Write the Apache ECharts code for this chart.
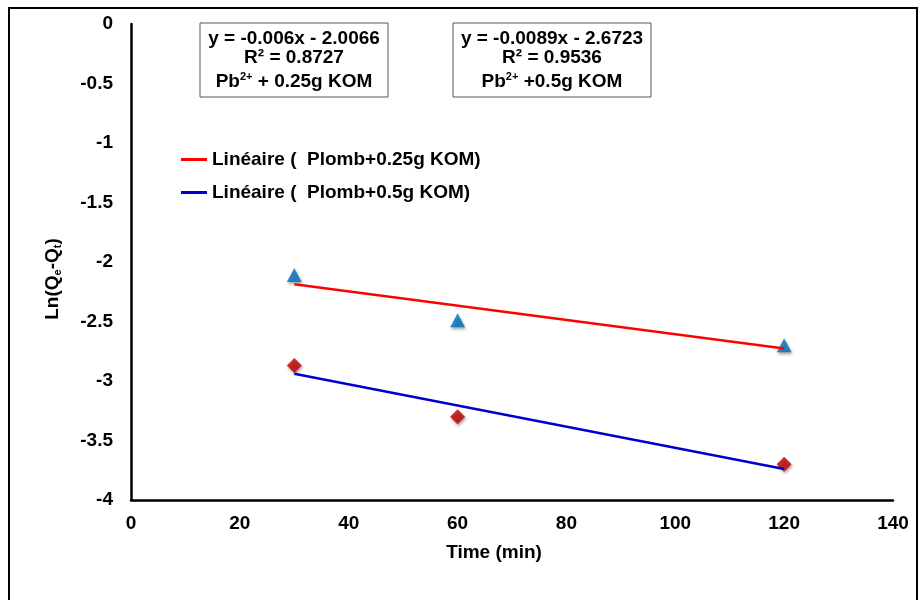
<!DOCTYPE html>
<html>
<head>
<meta charset="utf-8">
<script src="https://cdn.jsdelivr.net/npm/echarts@6/dist/echarts.min.js"></script>
<style>
  html, body { margin: 0; padding: 0; background: #fff; }
  #chart { width: 920px; height: 600px; }
</style>
</head>
<body>
<div id="chart"></div>
<script>
// Pseudo-first-order kinetics: Ln(Qe - Qt) versus contact time
const times = [30, 60, 120];
const pb025 = [-2.11, -2.49, -2.70];   // Pb2+ + 0.25 g KOM
const pb05  = [-2.87, -3.30, -3.70];   // Pb2+ + 0.5 g KOM

// Linear fits (slope, intercept) as reported in the equation boxes
const fit025 = { slope: -0.006,  intercept: -2.0066, r2: '0.8727' };
const fit05  = { slope: -0.0089, intercept: -2.6723, r2: '0.9536' };

const xTicks = { min: 0, max: 140, interval: 20 };
const yTicks = { min: -4, max: 0, interval: 0.5 };

const legendNames = ['Linéaire (  Plomb+0.25g KOM)', 'Linéaire (  Plomb+0.5g KOM)'];

const FONT = '"Liberation Sans", Arial, sans-serif';
const FS = 19;

function fitLine(fit) {
  const x0 = times[0], x1 = times[times.length - 1];
  return [[x0, fit.slope * x0 + fit.intercept], [x1, fit.slope * x1 + fit.intercept]];
}
function fmtEq(fit) {
  return 'y = ' + fit.slope.toString() + 'x - ' + Math.abs(fit.intercept).toString();
}

const chart = echarts.init(document.getElementById('chart'), null, { renderer: 'canvas' });

const markerShadow = {
  shadowBlur: 3, shadowColor: 'rgba(0,0,0,0.45)', shadowOffsetX: 1, shadowOffsetY: 2
};

function eqBox(x, y, w, h, fit, label) {
  const cx = x + w / 2;
  const txt = (yy, rich, str) => ({
    type: 'text', x: cx, y: yy,
    style: {
      text: str, fill: '#000', font: 'bold ' + FS + 'px ' + FONT,
      align: 'center', verticalAlign: 'middle', rich: rich
    }
  });
  const rich = {
    b: { fontSize: FS, fontWeight: 'bold', fontFamily: FONT, fill: '#000' },
    sup: { fontSize: 11, fontWeight: 'bold', fontFamily: FONT, fill: '#000', padding: [0, 0, 10, 0] }
  };
  return {
    type: 'group',
    children: [
      { type: 'rect', shape: { x: x, y: y, width: w, height: h },
        style: { fill: '#fff', stroke: '#595959', lineWidth: 1 } },
      txt(y + 16, null, fmtEq(fit)),
      txt(y + 35, null, 'R² = ' + fit.r2),
      txt(y + 59, rich, '{b|Pb}{sup|2+}{b|' + label + '}')
    ]
  };
}

chart.setOption({
  backgroundColor: '#fff',
  animation: false,
  textStyle: { fontFamily: FONT },
  grid: { left: 131, right: 27, top: 24, bottom: 100, containLabel: false },
  legend: {
    data: legendNames,
    orient: 'vertical',
    left: 176, top: 145,
    itemWidth: 26, itemHeight: 3, itemGap: 14,
    icon: 'rect',
    textStyle: { fontSize: FS, fontWeight: 'bold', color: '#000', fontFamily: FONT }
  },
  xAxis: {
    type: 'value',
    min: xTicks.min, max: xTicks.max, interval: xTicks.interval,
    name: 'Time (min)',
    nameLocation: 'middle',
    nameGap: 43,
    nameTextStyle: { fontSize: FS, fontWeight: 'bold', color: '#000', fontFamily: FONT, padding: [0, 36, 0, 0] },
    axisLine: { onZero: false, lineStyle: { color: '#000', width: 2.5 } },
    axisTick: { show: false },
    splitLine: { show: false },
    axisLabel: { fontSize: FS, fontWeight: 'bold', color: '#000', margin: 14, fontFamily: FONT }
  },
  yAxis: {
    type: 'value',
    min: yTicks.min, max: yTicks.max, interval: yTicks.interval,
    name: '{m|Ln(Q}{s|e}{m|-Q}{s|t}{m|)}',
    nameLocation: 'middle',
    nameRotate: 90,
    nameGap: 68,
    nameTextStyle: {
      color: '#000',
      padding: [0, 34, 0, 0],
      rich: {
        m: { fontSize: FS, fontWeight: 'bold', color: '#000', fontFamily: FONT },
        s: { fontSize: 11, fontWeight: 'bold', color: '#000', fontFamily: FONT, padding: [9, 0, 0, 0] }
      }
    },
    axisLine: { show: true, onZero: false, lineStyle: { color: '#000', width: 2.5 } },
    axisTick: { show: false },
    splitLine: { show: false },
    axisLabel: {
      fontSize: FS, fontWeight: 'bold', color: '#000', margin: 18, fontFamily: FONT,
      formatter: v => (Math.abs(v) < 1e-9 ? '0' : String(v))
    }
  },
  series: [
    {
      name: 'Pb2+ + 0.25g KOM',
      type: 'scatter',
      data: times.map((t, i) => [t, pb025[i]]),
      symbol: 'triangle', symbolSize: [15, 14],
      itemStyle: Object.assign({ color: '#0070C0' }, markerShadow),
      z: 2
    },
    {
      name: 'Pb2+ + 0.5g KOM',
      type: 'scatter',
      data: times.map((t, i) => [t, pb05[i]]),
      symbol: 'diamond', symbolSize: 15,
      itemStyle: Object.assign({ color: '#C00000' }, markerShadow),
      z: 2
    },
    {
      name: legendNames[0],
      type: 'line',
      data: fitLine(fit025),
      showSymbol: false, symbol: 'none',
      lineStyle: { color: '#FF0000', width: 2.5 },
      itemStyle: { color: '#FF0000' },
      z: 3
    },
    {
      name: legendNames[1],
      type: 'line',
      data: fitLine(fit05),
      showSymbol: false, symbol: 'none',
      lineStyle: { color: '#0000CC', width: 2.5 },
      itemStyle: { color: '#0000CC' },
      z: 3
    }
  ],
  graphic: [
    { type: 'rect', shape: { x: 9, y: 8, width: 908, height: 640 },
      style: { fill: 'none', stroke: '#000', lineWidth: 2 }, z: 100, silent: true },
    eqBox(200, 23, 188, 74, fit025, ' + 0.25g KOM'),
    eqBox(453, 23, 198, 74, fit05, ' +0.5g KOM')
  ]
});
</script>
</body>
</html>
